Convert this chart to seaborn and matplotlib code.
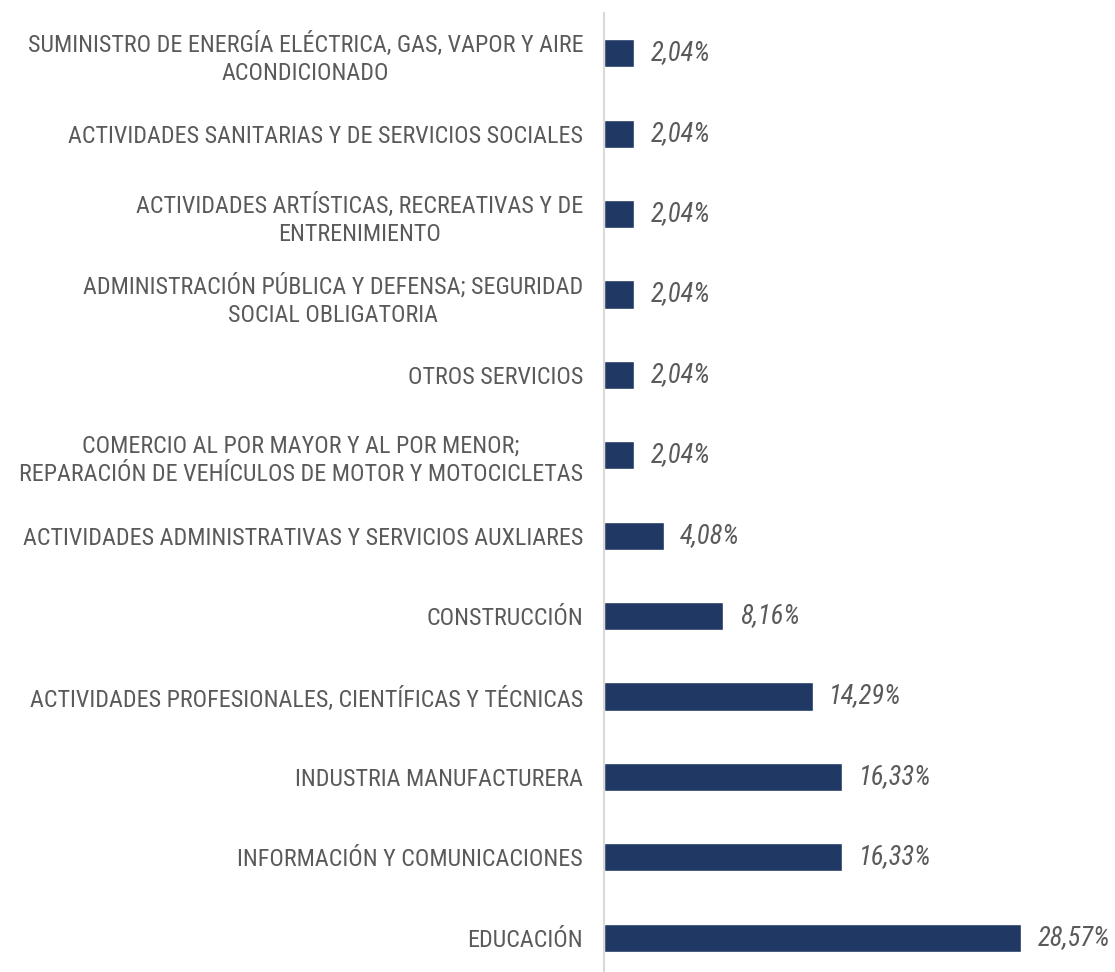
import matplotlib
matplotlib.use("Agg")
import matplotlib.pyplot as plt
import seaborn as sns
import pandas as pd
from matplotlib import font_manager

categories = [
    "SUMINISTRO DE ENERGÍA ELÉCTRICA, GAS, VAPOR Y AIRE\nACONDICIONADO",
    "ACTIVIDADES SANITARIAS Y DE SERVICIOS SOCIALES",
    "ACTIVIDADES ARTÍSTICAS, RECREATIVAS Y DE\nENTRENIMIENTO",
    "ADMINISTRACIÓN PÚBLICA Y DEFENSA; SEGURIDAD\nSOCIAL OBLIGATORIA",
    "OTROS SERVICIOS",
    "COMERCIO AL POR MAYOR Y AL POR MENOR;\nREPARACIÓN DE VEHÍCULOS DE MOTOR Y MOTOCICLETAS",
    "ACTIVIDADES ADMINISTRATIVAS Y SERVICIOS AUXLIARES",
    "CONSTRUCCIÓN",
    "ACTIVIDADES PROFESIONALES, CIENTÍFICAS Y TÉCNICAS",
    "INDUSTRIA MANUFACTURERA",
    "INFORMACIÓN Y COMUNICACIONES",
    "EDUCACIÓN",
]
values = [2.04, 2.04, 2.04, 2.04, 2.04, 2.04, 4.08, 8.16, 14.29, 16.33, 16.33, 28.57]
value_labels = ["2,04%", "2,04%", "2,04%", "2,04%", "2,04%", "2,04%",
                "4,08%", "8,16%", "14,29%", "16,33%", "16,33%", "28,57%"]

df = pd.DataFrame({"cat": categories, "val": values})

sns.set_style("white")
avail = {f.name for f in font_manager.fontManager.ttflist}
narrow = [n for n in ["Liberation Sans Narrow", "Arial Narrow", "Roboto Condensed",
                      "Open Sans Condensed", "DejaVu Sans Condensed"] if n in avail]
if narrow:
    fam = [narrow[0], "DejaVu Sans"]
else:
    fam = ["Liberation Sans", "DejaVu Sans"]
plt.rcParams["font.family"] = fam

W, H = 1115, 972
fig = plt.figure(figsize=(W / 100, H / 100), dpi=100)
ax = fig.add_axes([604 / W, -6 / H, (W - 604) / W, (H - 13 + 6) / H])

sns.barplot(data=df, x="val", y="cat", orient="h", color="#203864",
            width=0.35, ax=ax, saturation=1)

ax.set_xlim(0, 511 / 14.6)
ax.set_ylim(len(categories) - 0.5, -0.5)
ax.set_xlabel("")
ax.set_ylabel("")
ax.set_xticks([])
for s in ["top", "right", "bottom"]:
    ax.spines[s].set_visible(False)
ax.spines["left"].set_color("#d9d9d9")
ax.spines["left"].set_linewidth(1.5)
ax.tick_params(axis="y", length=0, pad=15, labelsize=14, labelcolor="#5a5a5a")
for lbl in ax.get_yticklabels():
    lbl.set_horizontalalignment("right")
    lbl.set_multialignment("center")
    lbl.set_linespacing(1.3)
    lbl.set_fontweight("normal")

texts = []
for i, (v, t) in enumerate(zip(values, value_labels)):
    texts.append(ax.annotate(t, (v, i), xytext=(12, 0), textcoords="offset points",
                             ha="left", va="center", fontsize=14, style="italic",
                             color="#5a5a5a", fontweight="normal"))

# size text to match reference widths
fig.canvas.draw()
r = fig.canvas.get_renderer()
ref = ax.get_yticklabels()[6]
wcur = ref.get_window_extent(r).width
fs = 14 * 561 / wcur
for lbl in ax.get_yticklabels():
    lbl.set_fontsize(fs)
wv = texts[8].get_window_extent(r).width
fv = 14 * 73 / wv
for t in texts:
    t.set_fontsize(fv)

fig.savefig("out.png", dpi=100)
